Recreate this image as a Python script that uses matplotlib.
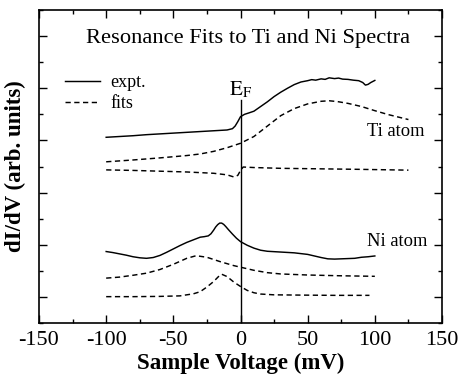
import matplotlib
matplotlib.use("Agg")
import matplotlib.pyplot as plt
from matplotlib.ticker import MultipleLocator, NullFormatter
from matplotlib.lines import Line2D

plt.rcParams['font.family'] = ['Liberation Serif', 'DejaVu Serif']
plt.rcParams['mathtext.fontset'] = 'stix'

# ---------------- data ----------------
ti_expt_v = [-100, -90, -80, -70, -60, -50, -40, -30, -20, -10, -6, -4, -2, 0, 3, 6, 10,
             15, 20, 25, 30, 35, 40, 45, 50, 53, 56, 60, 63, 66, 70, 73, 76, 80, 84, 88,
             91, 93, 95, 97, 100]
ti_expt_y = [6.12, 6.15, 6.18, 6.22, 6.25, 6.28, 6.31, 6.34, 6.37, 6.40, 6.45, 6.55, 6.72,
             6.91, 7.00, 7.05, 7.12, 7.30, 7.48, 7.68, 7.85, 8.00, 8.14, 8.24, 8.29, 8.33,
             8.31, 8.36, 8.34, 8.40, 8.37, 8.39, 8.35, 8.34, 8.31, 8.29, 8.22, 8.12, 8.15,
             8.22, 8.30]

ti_fit1_v = [-100, -80, -60, -40, -30, -20, -10, 0, 10, 20, 30, 40, 50, 60, 66, 72, 80,
             90, 100, 110, 125]
ti_fit1_y = [5.18, 5.25, 5.33, 5.42, 5.48, 5.58, 5.72, 5.89, 6.15, 6.55, 6.95, 7.22, 7.40,
             7.50, 7.52, 7.49, 7.42, 7.30, 7.14, 6.99, 6.80]

ti_fit2_v = [-100, -80, -60, -40, -20, -10, -5, -2, 0, 2, 10, 30, 60, 90, 125]
ti_fit2_y = [4.87, 4.85, 4.82, 4.79, 4.74, 4.68, 4.60, 4.66, 4.85, 4.98, 4.96, 4.93,
             4.91, 4.89, 4.86]

ni_expt_v = [-100, -95, -90, -85, -80, -75, -70, -65, -60, -55, -50, -45, -40, -35, -30,
             -27, -24, -22, -20, -18.5, -17, -15.5, -14, -12.5, -11, -9, -6, -3, 0, 5, 10,
             15, 20, 30, 40, 50, 55, 60, 65, 70, 75, 80, 85, 90, 95, 100]
ni_expt_y = [1.74, 1.70, 1.65, 1.60, 1.54, 1.50, 1.48, 1.51, 1.59, 1.71, 1.84, 1.97, 2.09,
             2.19, 2.29, 2.31, 2.34, 2.42, 2.56, 2.68, 2.77, 2.83, 2.83, 2.78, 2.70, 2.58,
             2.41, 2.25, 2.12, 1.98, 1.87, 1.79, 1.75, 1.72, 1.69, 1.63, 1.57, 1.51, 1.46,
             1.45, 1.46, 1.47, 1.48, 1.52, 1.54, 1.57]

ni_fit1_v = [-100, -90, -80, -70, -60, -50, -40, -33, -25, -15, -5, 0, 10, 20, 30, 50,
             75, 100]
ni_fit1_y = [0.72, 0.76, 0.83, 0.91, 1.05, 1.25, 1.48, 1.58, 1.52, 1.35, 1.20, 1.14, 1.02,
             0.93, 0.88, 0.84, 0.81, 0.79]

ni_fit2_v = [-100, -80, -60, -45, -35, -30, -25, -20, -16, -14, -10, -5, 0, 5, 10, 15, 25,
             44, 70, 96]
ni_fit2_y = [0.01, 0.01, 0.02, 0.04, 0.12, 0.20, 0.38, 0.59, 0.80, 0.87, 0.78, 0.57, 0.40,
             0.25, 0.16, 0.11, 0.08, 0.07, 0.06, 0.06]

ef_voltage = 0
ef_line_top = 7.55

x_ticks = [-150, -100, -50, 0, 50, 100, 150]
x_tick_labels = ['-150', '-100', '-50', '0', '50', '100', '150']

# ---------------- figure ----------------
fig = plt.figure(figsize=(4.59, 3.84), dpi=100)
ax = fig.add_axes([39 / 459, 1 - 323 / 384, 403 / 459, 313 / 384])

dash = (0, (3.6, 2.4))
lw = 1.05
ax.plot(ti_expt_v, ti_expt_y, color='black', lw=lw)
ax.plot(ti_fit1_v, ti_fit1_y, color='black', lw=lw, linestyle=dash)
ax.plot(ti_fit2_v, ti_fit2_y, color='black', lw=lw, linestyle=dash)
ax.plot(ni_expt_v, ni_expt_y, color='black', lw=lw)
ax.plot(ni_fit1_v, ni_fit1_y, color='black', lw=lw, linestyle=dash)
ax.plot(ni_fit2_v, ni_fit2_y, color='black', lw=lw, linestyle=dash)

ax.set_xlim(-150, 150)
ax.set_ylim(-1, 11)
ax.plot([ef_voltage, ef_voltage], [-1, ef_line_top], color='black', lw=1.0)

ax.text(ef_voltage, 7.74, r'$\mathrm{E}_\mathrm{F}$', ha='center', va='baseline', fontsize=15)
ax.text(0.52, 0.91, 'Resonance Fits to Ti and Ni Spectra', transform=ax.transAxes,
        ha='center', va='center', fontsize=16.2)
ax.text(94, 6.33, 'Ti atom', ha='left', va='center', fontsize=13.3)
ax.text(94.2, 2.12, 'Ni atom', ha='left', va='center', fontsize=13.3)

handles = [Line2D([], [], color='black', lw=lw),
           Line2D([], [], color='black', lw=lw, linestyle=dash)]
ax.legend(handles, ['expt.', 'fits'], loc='upper left', bbox_to_anchor=(0.0645, 0.795),
          frameon=False, fontsize=13, handlelength=1.95, handletextpad=0.55,
          labelspacing=0.22, borderpad=0, borderaxespad=0)

ax.set_xticks(x_ticks)
ax.set_xticklabels(x_tick_labels)
ax.xaxis.set_minor_locator(MultipleLocator(25))
ax.yaxis.set_major_locator(MultipleLocator(2))
ax.yaxis.set_minor_locator(MultipleLocator(1))
ax.yaxis.set_major_formatter(NullFormatter())
ax.tick_params(which='both', direction='in', top=True, right=True, width=1.0)
ax.tick_params(which='major', length=5.5)
ax.tick_params(which='minor', length=3)
ax.tick_params(axis='x', labelsize=16, pad=6)
for s in ax.spines.values():
    s.set_linewidth(1.2)

ax.set_xlabel('Sample Voltage (mV)', fontsize=16.5, fontweight='bold', labelpad=2)
ax.set_ylabel('dI/dV (arb. units)', fontsize=16.5, fontweight='bold', labelpad=6)

fig.savefig('out.png', dpi=100)
